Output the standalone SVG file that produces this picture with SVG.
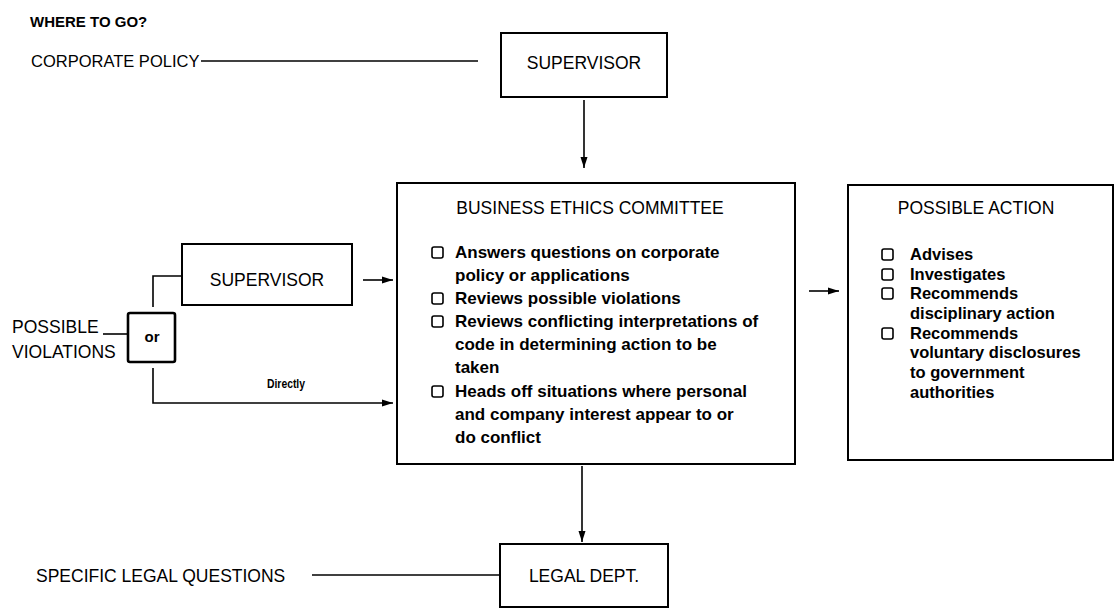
<svg xmlns="http://www.w3.org/2000/svg" width="1115" height="609" viewBox="0 0 1115 609">
<style>
.bg{fill:#fff}
.box{fill:#fff;stroke:#000;stroke-width:2}
.thick{fill:#fff;stroke:#000;stroke-width:2.6}
.ln{fill:none;stroke:#000;stroke-width:1.6}
.cb{fill:none;stroke:#000;stroke-width:1.6}
.lbl{font-family:"Liberation Sans",Arial,sans-serif;font-size:17.5px;fill:#000}
.ttl{font-family:"Liberation Sans",Arial,sans-serif;font-size:17.5px;fill:#000}
.body{font-family:"Liberation Sans",Arial,sans-serif;font-size:17px;font-weight:bold;fill:#000}
.pa{font-family:"Liberation Sans",Arial,sans-serif;font-size:16.5px;font-weight:bold;fill:#000}
.hd{font-family:"Liberation Sans",Arial,sans-serif;font-size:15px;font-weight:bold;fill:#000}
.sm{font-family:"Liberation Sans",Arial,sans-serif;font-size:12.5px;font-weight:bold;fill:#000}
.mid{text-anchor:middle}
</style>
<defs>
<marker id="ah" markerUnits="userSpaceOnUse" markerWidth="12" markerHeight="8" refX="11" refY="4" orient="auto">
<path d="M0,0.5 L11,4 L0,7.5 z" fill="#000"/>
</marker>
</defs>
<rect class="bg" x="0" y="0" width="1115" height="609"/>

<text class="hd" x="30" y="27">WHERE TO GO?</text>
<text class="lbl" x="31" y="67" style="font-size:16.5px">CORPORATE POLICY</text>
<text class="lbl" x="36" y="582">SPECIFIC LEGAL QUESTIONS</text>
<text class="lbl" x="12" y="333">POSSIBLE</text>
<text class="lbl" x="12" y="358">VIOLATIONS</text>

<g id="connectors">
<line class="ln" x1="201" y1="61" x2="478" y2="61"/>
<line class="ln" x1="312" y1="575" x2="500" y2="575"/>
<line class="ln" x1="584" y1="100" x2="584" y2="168" marker-end="url(#ah)"/>
<line class="ln" x1="582" y1="466" x2="582" y2="542" marker-end="url(#ah)"/>
<line class="ln" x1="363" y1="280" x2="393" y2="280" marker-end="url(#ah)"/>
<line class="ln" x1="809" y1="291" x2="839" y2="291" marker-end="url(#ah)"/>
<line class="ln" x1="103" y1="334" x2="128" y2="334"/>
<polyline class="ln" points="153,307 153,276 182,276"/>
<polyline class="ln" points="153,368 153,403 393,403" marker-end="url(#ah)"/>
<text class="sm" x="267" y="388" textLength="38" lengthAdjust="spacingAndGlyphs">Directly</text>
</g>

<g id="supervisor-top">
<rect class="box" x="501" y="33" width="166" height="64"/>
<text class="lbl mid" x="584" y="69">SUPERVISOR</text>
</g>

<g id="supervisor-left">
<rect class="box" x="182" y="244" width="170" height="61"/>
<text class="lbl mid" x="267" y="286">SUPERVISOR</text>
</g>

<g id="or">
<rect class="thick" x="128" y="313" width="47" height="49" rx="2"/>
<text class="lbl mid" x="152" y="342" style="font-weight:bold;font-size:15px">or</text>
</g>

<g id="ethics-committee">
<rect class="box" x="397" y="183" width="398" height="281"/>
<text class="ttl mid" x="590" y="214">BUSINESS ETHICS COMMITTEE</text>
<rect class="cb" x="432" y="247" width="11" height="11" rx="2"/>
<text class="body" x="455" y="258">Answers questions on corporate</text>
<text class="body" x="455" y="281">policy or applications</text>
<rect class="cb" x="432" y="293" width="11" height="11" rx="2"/>
<text class="body" x="455" y="304">Reviews possible violations</text>
<rect class="cb" x="432" y="316" width="11" height="11" rx="2"/>
<text class="body" x="455" y="327">Reviews conflicting interpretations of</text>
<text class="body" x="455" y="350">code in determining action to be</text>
<text class="body" x="455" y="373">taken</text>
<rect class="cb" x="432" y="386" width="11" height="11" rx="2"/>
<text class="body" x="455" y="397">Heads off situations where personal</text>
<text class="body" x="455" y="420">and company interest appear to or</text>
<text class="body" x="455" y="443">do conflict</text>
</g>

<g id="possible-action">
<rect class="box" x="848" y="185" width="265" height="275"/>
<text class="ttl mid" x="976" y="214">POSSIBLE ACTION</text>
<rect class="cb" x="882" y="249" width="11" height="11" rx="2"/>
<text class="pa" x="910" y="260">Advises</text>
<rect class="cb" x="882" y="269" width="11" height="11" rx="2"/>
<text class="pa" x="910" y="280">Investigates</text>
<rect class="cb" x="882" y="288" width="11" height="11" rx="2"/>
<text class="pa" x="910" y="299">Recommends</text>
<text class="pa" x="910" y="319">disciplinary action</text>
<rect class="cb" x="882" y="328" width="11" height="11" rx="2"/>
<text class="pa" x="910" y="339">Recommends</text>
<text class="pa" x="910" y="358">voluntary disclosures</text>
<text class="pa" x="910" y="378">to government</text>
<text class="pa" x="910" y="398">authorities</text>
</g>

<g id="legal-dept">
<rect class="box" x="500" y="544" width="168" height="63"/>
<text class="lbl mid" x="584" y="582">LEGAL DEPT.</text>
</g>
</svg>
